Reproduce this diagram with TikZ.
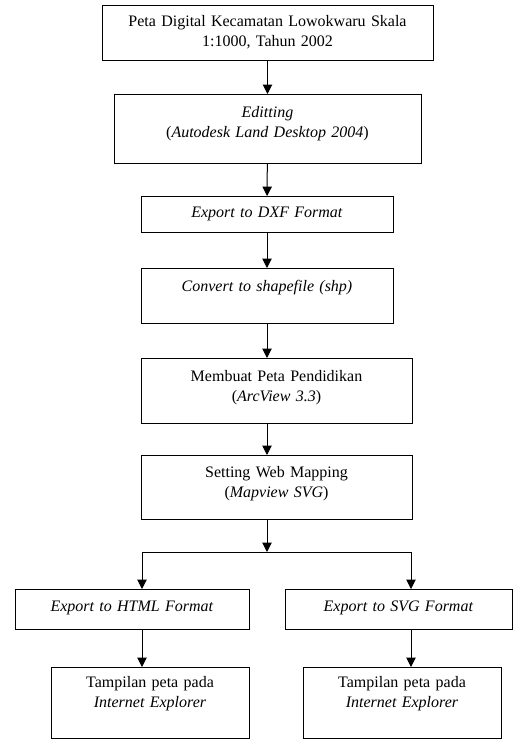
\documentclass[tikz,border=0pt]{standalone}
\usepackage{fontspec}
\setmainfont{Liberation Serif}
\usepackage{tikz}
\usetikzlibrary{arrows.meta}

\begin{document}
\begin{tikzpicture}[x=0.75pt, y=-0.75pt,
    box/.style={draw, line width=0.75pt, anchor=north, inner xsep=0pt, inner ysep=0pt,
      align=center, font=\fontsize{12pt}{15pt}\selectfont},
    flow/.style={line width=0.75pt, -{Triangle[width=7pt,length=7pt]}}]
  \useasboundingbox (0,0) rectangle (513,740);

  \node[box, text width=248.25pt, text height=15.75pt, text depth=25.5pt] (peta) at (267.5,5)
    {Peta Digital Kecamatan Lowokwaru Skala\\1:1000, Tahun 2002};
  \node[box, text width=230.25pt, text height=17.25pt, text depth=34.5pt] (edit) at (267.5,94)
    {\textit{Editting}\\(\textit{Autodesk Land Desktop 2004})};
  \node[box, text width=189pt, text height=15.75pt, text depth=11.25pt] (dxf) at (267,196)
    {\textit{Export to DXF Format}};
  \node[box, text width=189pt, text height=17.25pt, text depth=24pt] (shp) at (267,268)
    {\textit{Convert to shapefile (shp)}};
  \node[box, text width=203.25pt, text height=17.25pt, text depth=31.5pt] (arcview) at (276.5,358)
    {Membuat Peta Pendidikan\\(\textit{ArcView 3.3})};
  \node[box, text width=203.25pt, text height=16.5pt, text depth=31.5pt] (mapview) at (276.5,455)
    {Setting Web Mapping\\(\textit{Mapview SVG})};
  \node[box, text width=175.5pt, text height=16.5pt, text depth=13.5pt] (html) at (132,589)
    {\textit{Export to HTML Format}};
  \node[box, text width=170.25pt, text height=16.5pt, text depth=13.5pt] (svg) at (398.5,589)
    {\textit{Export to SVG Format}};
  \node[box, text width=148.5pt, text height=15pt, text depth=38.25pt] (ieleft) at (150,667)
    {Tampilan peta pada\\\textit{Internet Explorer}};
  \node[box, text width=148.5pt, text height=15pt, text depth=38.25pt] (ieright) at (402,667)
    {Tampilan peta pada\\\textit{Internet Explorer}};

  \coordinate (split) at (267,552);
  \coordinate (splitL) at (142,552);
  \coordinate (splitR) at (411,552);

  \draw[flow] (peta) -- (edit);
  \draw[flow] (edit) -- (dxf);
  \draw[flow] (dxf) -- (shp);
  \draw[flow] (shp.south) -- (shp.south |- arcview.north);
  \draw[flow] (shp.south |- arcview.south) -- (shp.south |- mapview.north);
  \draw[flow] (shp.south |- mapview.south) -- (split);
  \draw[line width=0.75pt] (splitL) -- (splitR);
  \draw[flow] (splitL) -- (splitL |- html.north);
  \draw[flow] (splitR) -- (splitR |- svg.north);
  \draw[flow] (splitL |- html.south) -- (splitL |- ieleft.north);
  \draw[flow] (splitR |- svg.south) -- (splitR |- ieright.north);
\end{tikzpicture}
\end{document}
